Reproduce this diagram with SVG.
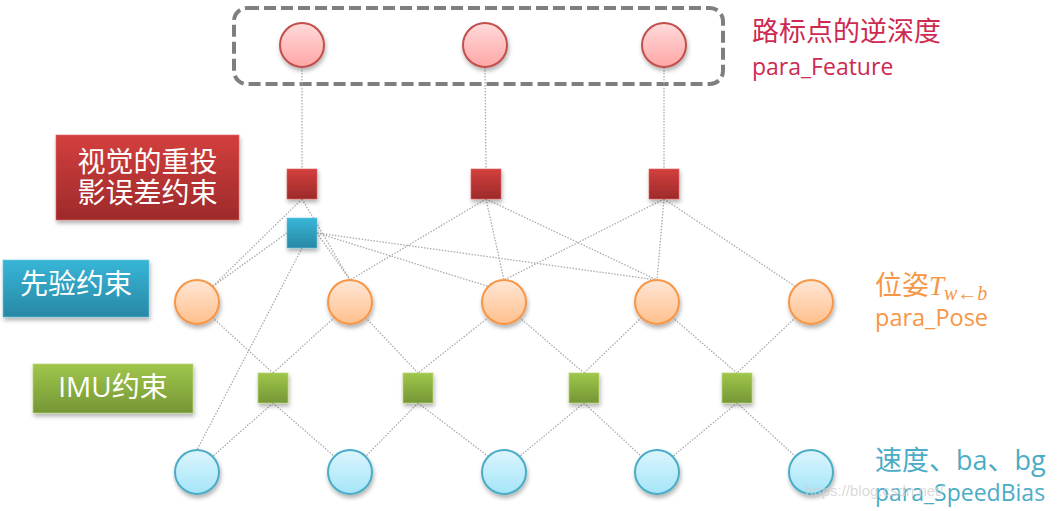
<svg xmlns="http://www.w3.org/2000/svg" width="1059" height="511" viewBox="0 0 1059 511">
<defs>
<linearGradient id="gRed" x1="0" y1="0" x2="0" y2="1"><stop offset="0" stop-color="#d33f3d"/><stop offset="1" stop-color="#9d2a2b"/></linearGradient>
<linearGradient id="gBlue" x1="0" y1="0" x2="0" y2="1"><stop offset="0" stop-color="#37b6d8"/><stop offset="1" stop-color="#2888a4"/></linearGradient>
<linearGradient id="gGreen" x1="0" y1="0" x2="0" y2="1"><stop offset="0" stop-color="#a0c64a"/><stop offset="1" stop-color="#759636"/></linearGradient>
<linearGradient id="cRed" x1="0" y1="0" x2="0" y2="1"><stop offset="0" stop-color="#ffdada"/><stop offset="1" stop-color="#ffa6a6"/></linearGradient>
<linearGradient id="cOrange" x1="0" y1="0" x2="0" y2="1"><stop offset="0" stop-color="#ffe6d6"/><stop offset="1" stop-color="#ffc08c"/></linearGradient>
<linearGradient id="cBlue" x1="0" y1="0" x2="0" y2="1"><stop offset="0" stop-color="#dcf5fd"/><stop offset="1" stop-color="#a4e5f8"/></linearGradient>
<filter id="sh" x="-30%" y="-30%" width="160%" height="170%"><feDropShadow dx="1" dy="3" stdDeviation="2" flood-color="#000" flood-opacity="0.3"/></filter>
</defs>
<style>
.c{stroke:#ababab;stroke-width:1.3;stroke-dasharray:1.5 1.5;fill:none}
.rc{fill:url(#cRed);stroke:#c0504d;stroke-width:2;filter:url(#sh)}
.oc{fill:url(#cOrange);stroke:#f79646;stroke-width:2;filter:url(#sh)}
.bc{fill:url(#cBlue);stroke:#4bacc6;stroke-width:2;filter:url(#sh)}
.rs{fill:url(#gRed);stroke:#e06060;stroke-width:1;stroke-opacity:0.6;filter:url(#sh)}
.bs{fill:url(#gBlue);stroke:#6cc8e2;stroke-width:1;stroke-opacity:0.6;filter:url(#sh)}
.gs{fill:url(#gGreen);stroke:#b8d676;stroke-width:1;stroke-opacity:0.7;filter:url(#sh)}
.lt{font-family:"Open Sans","Noto Sans CJK SC",sans-serif;fill:#fff;font-size:28px;text-anchor:middle}
.t{font-family:"Open Sans","Noto Sans CJK SC",sans-serif}
</style>
<rect x="234" y="8" width="489" height="76" rx="13" fill="none" stroke="#7f7f7f" stroke-width="4" stroke-dasharray="12 5"/>
<g id="connectors">
<line class="c" x1="302" y1="67" x2="302" y2="169"/>
<line class="c" x1="485" y1="67" x2="486" y2="169"/>
<line class="c" x1="664" y1="67" x2="664" y2="169"/>
<line class="c" x1="302" y1="199" x2="212.5" y2="286.5"/>
<line class="c" x1="302" y1="199" x2="350" y2="280"/>
<line class="c" x1="287" y1="233" x2="212.5" y2="286.5"/>
<line class="c" x1="317" y1="233" x2="350" y2="280"/>
<line class="c" x1="317" y1="233" x2="488.5" y2="286.5"/>
<line class="c" x1="317" y1="233" x2="657" y2="280"/>
<line class="c" x1="302" y1="248" x2="197" y2="450"/>
<line class="c" x1="486" y1="199" x2="350" y2="280"/>
<line class="c" x1="486" y1="199" x2="504" y2="280"/>
<line class="c" x1="486" y1="199" x2="657" y2="280"/>
<line class="c" x1="664" y1="199" x2="504" y2="280"/>
<line class="c" x1="664" y1="199" x2="657" y2="280"/>
<line class="c" x1="664" y1="199" x2="795.5" y2="286.5"/>
<line class="c" x1="212.5" y1="317.5" x2="273" y2="373"/>
<line class="c" x1="334.5" y1="317.5" x2="273" y2="373"/>
<line class="c" x1="365.5" y1="317.5" x2="418" y2="373"/>
<line class="c" x1="488.5" y1="317.5" x2="418" y2="373"/>
<line class="c" x1="519.5" y1="317.5" x2="584" y2="373"/>
<line class="c" x1="641.5" y1="317.5" x2="584" y2="373"/>
<line class="c" x1="672.5" y1="317.5" x2="737" y2="373"/>
<line class="c" x1="795.5" y1="317.5" x2="737" y2="373"/>
<line class="c" x1="273" y1="403" x2="212.5" y2="456.5"/>
<line class="c" x1="273" y1="403" x2="334.5" y2="456.5"/>
<line class="c" x1="418" y1="403" x2="365.5" y2="456.5"/>
<line class="c" x1="418" y1="403" x2="488.5" y2="456.5"/>
<line class="c" x1="584" y1="403" x2="519.5" y2="456.5"/>
<line class="c" x1="584" y1="403" x2="641.5" y2="456.5"/>
<line class="c" x1="737" y1="403" x2="672.5" y2="456.5"/>
<line class="c" x1="737" y1="403" x2="795.5" y2="456.5"/>
</g>
<g id="feature1"><circle class="rc" cx="302" cy="45" r="22"/></g>
<g id="feature2"><circle class="rc" cx="485" cy="45" r="22"/></g>
<g id="feature3"><circle class="rc" cx="664" cy="45" r="22"/></g>
<g id="reproj1"><rect class="rs" x="287" y="169" width="30" height="30"/></g>
<g id="reproj2"><rect class="rs" x="471" y="169" width="30" height="30"/></g>
<g id="reproj3"><rect class="rs" x="649" y="169" width="30" height="30"/></g>
<g id="prior"><rect class="bs" x="287" y="218" width="30" height="30"/></g>
<g id="pose1"><circle class="oc" cx="197" cy="302" r="22"/></g>
<g id="pose2"><circle class="oc" cx="350" cy="302" r="22"/></g>
<g id="pose3"><circle class="oc" cx="504" cy="302" r="22"/></g>
<g id="pose4"><circle class="oc" cx="657" cy="302" r="22"/></g>
<g id="pose5"><circle class="oc" cx="811" cy="302" r="22"/></g>
<g id="imu1"><rect class="gs" x="258" y="373" width="30" height="30"/></g>
<g id="imu2"><rect class="gs" x="403" y="373" width="30" height="30"/></g>
<g id="imu3"><rect class="gs" x="569" y="373" width="30" height="30"/></g>
<g id="imu4"><rect class="gs" x="722" y="373" width="30" height="30"/></g>
<g id="sb1"><circle class="bc" cx="197" cy="472" r="22"/></g>
<g id="sb2"><circle class="bc" cx="350" cy="472" r="22"/></g>
<g id="sb3"><circle class="bc" cx="504" cy="472" r="22"/></g>
<g id="sb4"><circle class="bc" cx="657" cy="472" r="22"/></g>
<g id="sb5"><circle class="bc" cx="811" cy="472" r="22"/></g>
<g id="label-reproj">
<rect x="56" y="135" width="183" height="85" fill="url(#gRed)" stroke="#e06a66" stroke-opacity="0.6" filter="url(#sh)"/>
<text class="lt" x="147.5" y="172">视觉的重投</text>
<text class="lt" x="147.5" y="203">影误差约束</text>
</g>
<g id="label-prior">
<rect x="3" y="260" width="146" height="57" fill="url(#gBlue)" stroke="#6cc8e2" stroke-opacity="0.6" filter="url(#sh)"/>
<text class="lt" x="76" y="294">先验约束</text>
</g>
<g id="label-imu">
<rect x="33" y="364" width="160" height="49" fill="url(#gGreen)" stroke="#b8d676" stroke-opacity="0.7" filter="url(#sh)"/>
<text class="lt" x="113" y="397" font-size="27">IMU约束</text>
</g>
<g id="label-feature">
<text class="t" x="752" y="41" font-size="27" fill="#cd2a52">路标点的逆深度</text>
<text class="t" x="752" y="75" font-size="23" fill="#cd2a52">para_Feature</text>
</g>
<g id="label-pose">
<text class="t" x="875" y="295" font-size="27" fill="#f79646">位姿<tspan font-family="Liberation Serif,serif" font-style="italic">T</tspan><tspan font-family="Liberation Serif,serif" font-style="italic" font-size="20" dy="5">w←b</tspan></text>
<text class="t" x="875" y="326" font-size="23.5" fill="#f79646">para_Pose</text>
</g>
<g id="label-speedbias">
<text class="t" x="875" y="470" font-size="27" fill="#4bacc6">速度、ba、bg</text>
<text class="t" x="875" y="501" font-size="23" fill="#4bacc6">para_SpeedBias</text>
</g>
<text x="805" y="496" font-family="Liberation Sans,sans-serif" font-size="15" fill="#d0d0d0" fill-opacity="0.8">https://blog.csdn.net/</text>
</svg>
